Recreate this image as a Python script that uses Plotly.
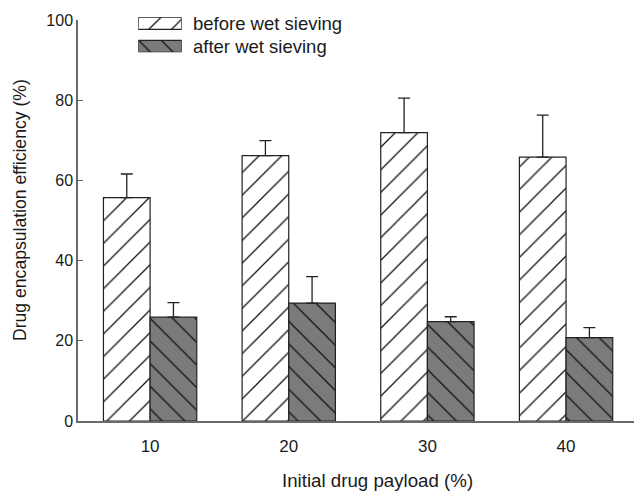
import plotly.graph_objects as go

# ---- data ----
payload = [10, 20, 30, 40]
before_vals = [55.7, 66.2, 71.9, 65.8]
before_err = [5.9, 3.7, 8.6, 10.5]
after_vals = [25.9, 29.4, 24.8, 20.8]
after_err = [3.6, 6.6, 1.2, 2.5]
series_names = ["before wet sieving", "after wet sieving"]
y_ticks = [0, 20, 40, 60, 80, 100]

FONT = "Liberation Sans, Arial, Helvetica, sans-serif"
TXT = "#1a1a1a"
AX = "#6a6a6a"
DARK = "#7b7b7b"
EDGE = "#222222"

W, H = 634, 491
ML, MR, MT, MB = 78, 0, 10, 70
PW = W - ML - MR
PH = H - MT - MB
plot_top_px = 20
plot_bot_px = H - MB


def px_x(px):
    return (px - ML) / PW


def px_y(py):
    return (plot_bot_px - py) / PH


pat_size = 16
pat_sol = 0.08


def style(bg, shape):
    return dict(color=bg, line=dict(color=EDGE, width=1.2),
                pattern=dict(shape=shape, fgcolor="#111", bgcolor=bg,
                             size=pat_size, solidity=pat_sol, fillmode="replace"))


fig = go.Figure()

fig.add_trace(go.Bar(
    x=payload, y=before_vals, name=series_names[0],
    marker=style("white", "/"),
    error_y=dict(type="data", array=before_err, arrayminus=[0] * len(before_err),
                 symmetric=False, color=EDGE, thickness=1.3, width=6),
    showlegend=False,
))
fig.add_trace(go.Bar(
    x=payload, y=after_vals, name=series_names[1],
    marker=style(DARK, "\\"),
    error_y=dict(type="data", array=after_err, arrayminus=[0] * len(after_err),
                 symmetric=False, color=EDGE, thickness=1.3, width=6),
    showlegend=False,
))

# ---- legend swatches drawn as bars on an inset axis ----
sw_top, sw_pitch, sw_h = 17.3, 23.05, 12
bw = sw_h / sw_pitch
for yy, bg, shp in [(1, "white", "/"), (0, DARK, "\\")]:
    fig.add_trace(go.Bar(
        x=[1], y=[yy], base=0, orientation="h", width=bw, offset=-bw / 2,
        xaxis="x2", yaxis="y2", showlegend=False, hoverinfo="skip",
        marker=style(bg, shp),
    ))

y2_lo_px = sw_top + sw_pitch + sw_h
fig.update_layout(
    xaxis2=dict(domain=[px_x(138.3), px_x(181.7)], range=[0, 1], visible=False,
                anchor="y2", fixedrange=True),
    yaxis2=dict(domain=[px_y(y2_lo_px), px_y(sw_top)],
                range=[-(sw_h / 2) / sw_pitch, 1 + (sw_h / 2) / sw_pitch],
                visible=False, anchor="x2", fixedrange=True),
)

fig.update_layout(
    width=W, height=H,
    margin=dict(l=ML, r=MR, t=MT, b=MB, pad=0),
    paper_bgcolor="white", plot_bgcolor="white",
    barmode="group", bargap=0.327, bargroupgap=0,
    showlegend=False,
    font=dict(family=FONT, size=17, color=TXT),
    xaxis=dict(range=[4.8, 44.9], tickvals=payload, ticktext=[str(p) for p in payload],
               showline=True, linecolor=AX, linewidth=1.5, ticks="",
               showgrid=False, zeroline=False, ticklabelstandoff=9,
               tickfont=dict(size=17, color=TXT)),
    yaxis=dict(domain=[0, px_y(plot_top_px)], range=[0, 100], tickvals=y_ticks,
               showline=True, linecolor=AX, linewidth=1.5, ticks="inside",
               ticklen=5, tickcolor=AX, tickwidth=1.3,
               showgrid=False, zeroline=False, ticklabelstandoff=0,
               tickfont=dict(size=16, color=TXT)),
)

annotations = [
    dict(text="Initial drug payload (%)", x=px_x(377.5), y=px_y(480),
         xref="paper", yref="paper", xanchor="center", yanchor="middle",
         showarrow=False, font=dict(size=18.7, color=TXT, family=FONT)),
    dict(text="Drug encapsulation efficiency (%)", x=px_x(20), y=px_y(210),
         xref="paper", yref="paper", xanchor="center", yanchor="middle",
         textangle=-90, showarrow=False, font=dict(size=17.6, color=TXT, family=FONT)),
    dict(text=series_names[0], x=px_x(191), y=px_y(sw_top + sw_h / 2),
         xref="paper", yref="paper", xanchor="left", yanchor="middle",
         showarrow=False, font=dict(size=18.5, color=TXT, family=FONT)),
    dict(text=series_names[1], x=px_x(191), y=px_y(sw_top + sw_pitch + sw_h / 2),
         xref="paper", yref="paper", xanchor="left", yanchor="middle",
         showarrow=False, font=dict(size=18.5, color=TXT, family=FONT)),
]
fig.update_layout(annotations=annotations)

fig.write_html("out.html")
